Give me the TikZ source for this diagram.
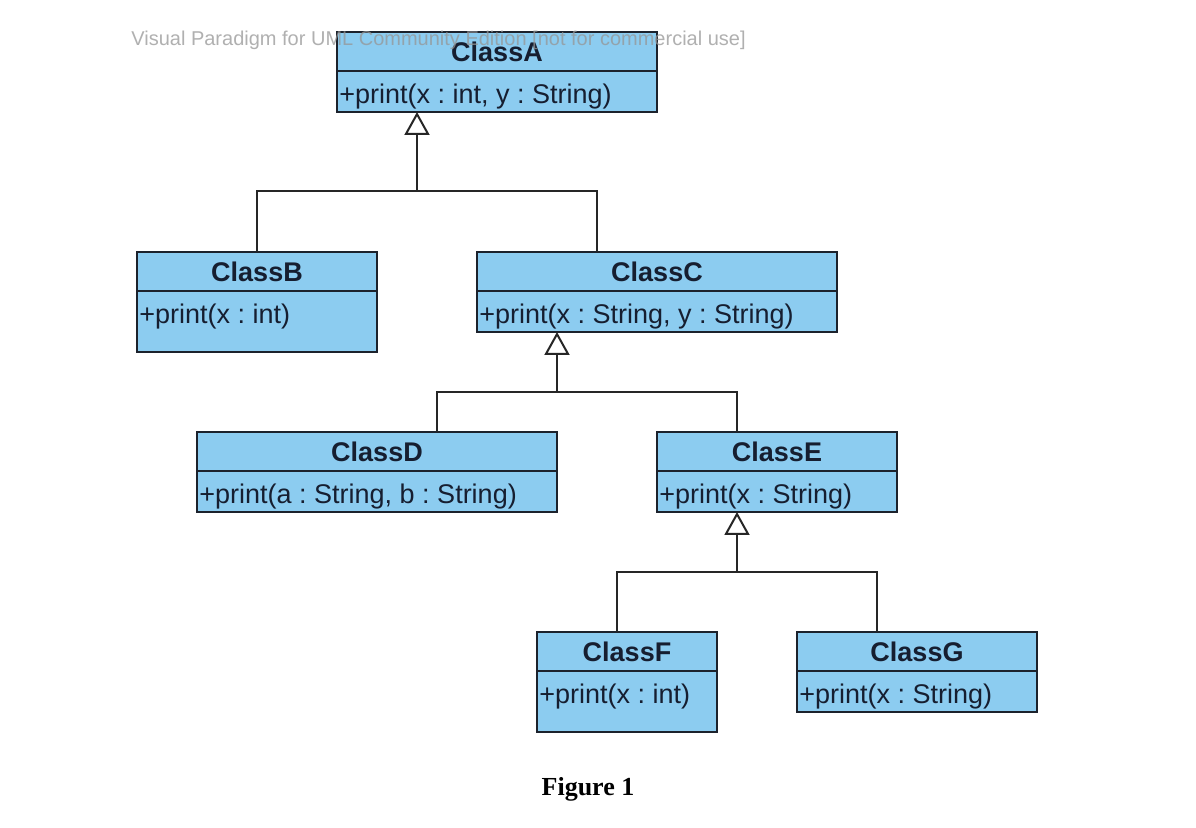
\documentclass[tikz,border=0pt]{standalone}
\usepackage{fontspec}
\setmainfont{Liberation Serif}
\newfontfamily\umlfont{Liberation Sans}
\usetikzlibrary{arrows.meta}
\frenchspacing
\definecolor{clsfill}{RGB}{140,204,240}
\definecolor{clstext}{RGB}{22,30,48}
\definecolor{clsborder}{RGB}{28,34,44}
\definecolor{wmgray}{RGB}{150,150,150}
% #1 name, #2 x, #3 y (top left, px), #4 width px, #5 height px, #6 title, #7 operation
\newcommand{\umlclass}[7]{%
  \node[clsbox, minimum width=#4*0.5pt, minimum height=#5*0.5pt, anchor=north west] (#1) at (#2,#3) {};
  \draw[clsline] ([yshift=-19.5pt]#1.north west) -- ([yshift=-19.5pt]#1.north east);
  \node[clsname] (#1n) at ([yshift=-10pt]#1.north) {#6};
  \node[clsop] (#1m) at ([xshift=1pt,yshift=-36pt]#1.north west) {#7};
}
\begin{document}
\begin{tikzpicture}[x=0.5pt,y=-0.5pt,
  clsbox/.style={draw=clsborder, fill=clsfill, line width=1pt, inner sep=0pt, outer sep=0pt},
  clsline/.style={draw=clsborder, line width=1pt},
  clsname/.style={inner sep=0pt, text=clstext, font=\umlfont\bfseries\fontsize{13.5}{16}\selectfont},
  clsop/.style={inner sep=0pt, anchor=base west, text=clstext, font=\umlfont\fontsize{13.5}{16}\selectfont},
  conn/.style={draw=black!85, line width=1pt},
  gen/.style={conn, -{Triangle[open, length=11.5pt, width=12.5pt, line width=1pt]}},
  wm/.style={inner sep=0pt, anchor=base west, text=wmgray, opacity=0.75, font=\umlfont\fontsize{10}{12}\selectfont},
  caption/.style={inner sep=0pt, anchor=base, font=\bfseries\fontsize{13}{15}\selectfont}
]
\useasboundingbox (0,0) rectangle (1196,828);
\fill[white] (0,0) rectangle (1196,828);

\umlclass{A}{337}{32}{320}{80}{ClassA}{+print(x : int, y : String)}
\umlclass{B}{137}{252}{240}{100}{ClassB}{+print(x : int)}
\umlclass{C}{477}{252}{360}{80}{ClassC}{+print(x : String, y : String)}
\umlclass{D}{197}{432}{360}{80}{ClassD}{+print(a : String, b : String)}
\umlclass{E}{657}{432}{240}{80}{ClassE}{+print(x : String)}
\umlclass{F}{537}{632}{180}{100}{ClassF}{+print(x : int)}
\umlclass{G}{797}{632}{240}{80}{ClassG}{+print(x : String)}

% junctions
\coordinate (jA) at (417,191);
\coordinate (jC) at (557,392);
\coordinate (jE) at (737,572);

% generalisations
\draw[conn] (B.north) |- (jA) -| ([xshift=60pt]C.north west);
\draw[gen] (jA) -- ([xshift=40pt]A.south west);
\draw[conn] ([xshift=120pt]D.north west) |- (jC) -| ([xshift=40pt]E.north west);
\draw[gen] (jC) -- ([xshift=40pt]C.south west);
\draw[conn] ([xshift=40pt]F.north west) |- (jE) -| ([xshift=40pt]G.north west);
\draw[gen] (jE) -- ([xshift=40pt]E.south west);

% watermark
\node[wm] (wmark) at (131,46) {Visual Paradigm for UML Community Edition [not for commercial use]};

% caption
\node[caption] (fig) at (588,796) {Figure 1};
\end{tikzpicture}
\end{document}
